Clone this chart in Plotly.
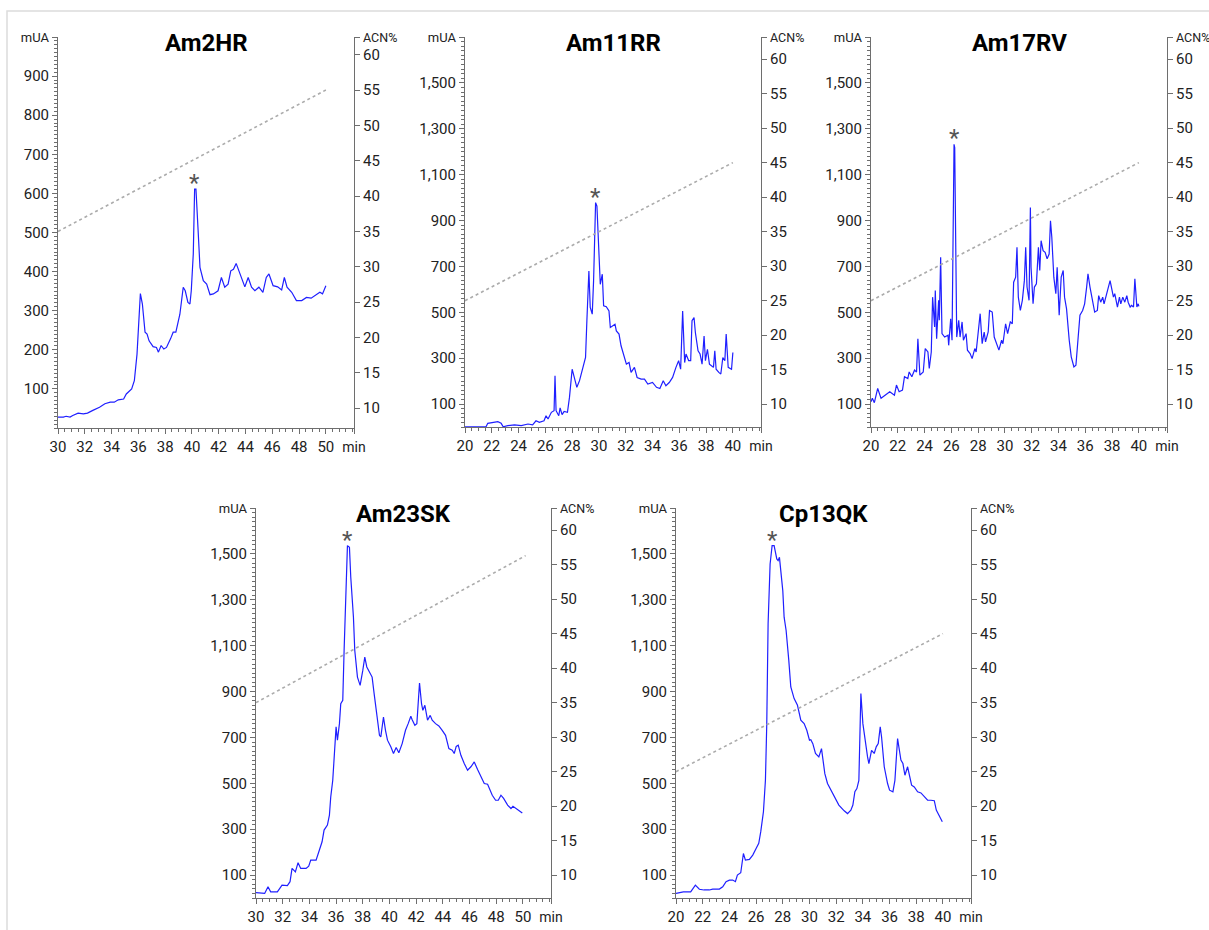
import plotly.graph_objects as go

# ---------------- data ----------------
panel_titles = ["Am2HR", "Am11RR", "Am17RV", "Am23SK", "Cp13QK"]

am2hr_time = [30, 30.4, 30.6, 30.9, 31.1, 31.5, 31.9, 32.2, 32.6, 33.1, 33.5, 33.9, 34.2, 34.5, 34.9, 35.1, 35.5,
              35.7, 35.9, 36.05, 36.15, 36.3, 36.5, 36.65, 36.8, 37.1, 37.35, 37.5, 37.7, 37.9, 38.1, 38.4, 38.6,
              38.8, 39.1, 39.35, 39.5, 39.7, 39.85, 39.95, 40.1, 40.2, 40.3, 40.45, 40.6, 40.85, 41.1, 41.35, 41.6,
              41.95, 42.2, 42.45, 42.7, 42.9, 43.1, 43.3, 43.5, 43.7, 43.95, 44.2, 44.45, 44.7, 45.0, 45.3, 45.55,
              45.75, 46.06, 46.4, 46.7, 46.9, 47.1, 47.45, 47.8, 48.2, 48.55, 48.9, 49.3, 49.55, 49.75, 50.0]
am2hr_mau = [28, 28, 30, 28, 32, 38, 36, 38, 45, 53, 62, 66, 66, 72, 74, 87, 100,
             121, 189, 291, 344, 317, 245, 240, 223, 208, 206, 194, 211, 202, 206, 228, 245,
             245, 291, 360, 351, 321, 317, 351, 445, 611, 611, 513, 411, 377, 368, 341, 343,
             351, 385, 360, 368, 402, 406, 421, 402, 385, 361, 385, 360, 351, 360, 347, 385,
             394, 364, 361, 353, 385, 360, 347, 326, 326, 334, 332, 341, 347, 343, 364]

am11rr_time = [20, 21.57, 21.7, 22.2, 22.45, 22.7, 22.85, 23.2, 23.7, 24.2, 24.7, 25.05, 25.3, 25.55, 25.9, 26.05,
               26.2, 26.45, 26.65, 26.72, 26.8, 27.0, 27.1, 27.25, 27.4, 27.65, 27.8, 28.0, 28.2, 28.35, 28.55,
               28.8, 29.0, 29.1, 29.25, 29.35, 29.5, 29.6, 29.75, 29.85, 29.95, 30.1, 30.25, 30.35, 30.55, 30.75,
               30.85, 31.05, 31.2, 31.3, 31.5, 31.65, 31.85, 32.05, 32.25, 32.4, 32.65, 32.85, 33.15, 33.4, 33.65,
               34.0, 34.3, 34.55, 34.8, 35.0, 35.25, 35.5, 35.75, 35.95, 36.1, 36.25, 36.4, 36.5, 36.7, 36.85,
               36.95, 37.1, 37.2, 37.4, 37.55, 37.7, 37.85, 37.95, 38.1, 38.25, 38.4, 38.55, 38.65, 38.75, 38.95,
               39.1, 39.25, 39.4, 39.5, 39.65, 39.9, 40.0]
am11rr_mau = [1, 1, 16, 19, 23, 16, 1, 6, 9, 6, 13, 9, 27, 20, 27, 49,
              35, 64, 71, 223, 71, 49, 83, 54, 68, 64, 129, 252, 202, 173, 202,
              252, 303, 463, 680, 521, 492, 637, 978, 963, 840, 622, 666, 528, 524, 506,
              434, 441, 448, 419, 405, 354, 318, 274, 281, 238, 260, 216, 209, 209, 187,
              194, 173, 168, 202, 180, 194, 216, 260, 289, 252, 506, 281, 318, 289, 289,
              463, 477, 412, 332, 318, 274, 397, 289, 339, 274, 267, 260, 332, 252, 238,
              231, 303, 289, 405, 260, 252, 325]

am17rv_time = [20, 20.1, 20.25, 20.5, 20.75, 21.1, 21.4, 21.75, 21.9, 22.1, 22.35, 22.5, 22.75, 22.85, 23.05, 23.25,
               23.4, 23.5, 23.65, 23.9, 24.05, 24.25, 24.35, 24.5, 24.6, 24.75, 24.8, 24.9, 25.05, 25.1, 25.2, 25.3,
               25.5, 25.75, 25.8, 25.95, 26.05, 26.2, 26.25, 26.4, 26.55, 26.65, 26.8, 26.9, 27.1, 27.2, 27.4,
               27.55, 27.75, 27.85, 28.05, 28.15, 28.3, 28.45, 28.55, 28.75, 28.85, 29.05, 29.2, 29.35, 29.55,
               29.75, 29.85, 30.05, 30.2, 30.4, 30.55, 30.65, 30.8, 30.9, 31.0, 31.15, 31.3, 31.45, 31.55, 31.65,
               31.8, 31.9, 31.95, 32.1, 32.2, 32.35, 32.5, 32.6, 32.7, 32.85, 33.0, 33.15, 33.3, 33.4, 33.5, 33.65,
               33.8, 33.9, 34.05, 34.2, 34.35, 34.45, 34.6, 34.8, 34.95, 35.15, 35.3, 35.45, 35.6, 35.8, 35.95,
               36.1, 36.2, 36.35, 36.55, 36.7, 36.9, 37.0, 37.15, 37.3, 37.4, 37.6, 37.85, 38.1, 38.2, 38.4, 38.55,
               38.65, 38.8, 38.95, 39.1, 39.2, 39.35, 39.45, 39.6, 39.7, 39.85, 39.95, 40.0]
am17rv_mau = [110, 125, 106, 168, 125, 139, 154, 139, 183, 154, 161, 219, 211, 240, 219, 248,
              240, 385, 226, 240, 342, 327, 255, 327, 566, 436, 595, 385, 552, 465, 740, 407,
              392, 400, 356, 472, 378, 1232, 1218, 392, 465, 392, 458, 378, 407, 335, 320,
              298, 342, 327, 443, 494, 363, 414, 371, 414, 508, 501, 392, 371, 335,
              378, 363, 450, 407, 458, 450, 631, 653, 783, 566, 508, 552, 638, 783, 610,
              552, 957, 696, 537, 610, 624, 783, 682, 812, 769, 761, 733, 754, 899, 827, 653,
              581, 696, 487, 653, 682, 566, 515, 378, 306, 262, 269, 378, 487, 508, 537,
              610, 668, 610, 552, 501, 508, 573, 544, 566, 537, 581, 638, 566, 581, 523, 566,
              537, 566, 544, 573, 544, 523, 530, 523, 646, 523, 537, 526]

am23sk_time = [30, 30.65, 30.9, 31.1, 31.6, 31.95, 32.35, 32.55, 32.7, 32.95, 33.15, 33.35, 33.75, 33.95, 34.1,
               34.5, 34.75, 34.95, 35.1, 35.35, 35.5, 35.6, 35.75, 35.85, 36.0, 36.1, 36.25, 36.35, 36.5, 36.6,
               36.75, 36.85, 37.0, 37.1, 37.3, 37.4, 37.6, 37.8, 38.0, 38.15, 38.3, 38.5, 38.7, 38.85, 39.05,
               39.25, 39.35, 39.55, 39.7, 39.85, 40.1, 40.3, 40.5, 40.7, 40.95, 41.2, 41.4, 41.6, 41.7, 41.9,
               42.05, 42.15, 42.25, 42.4, 42.5, 42.65, 42.85, 43.05, 43.2, 43.45, 43.7, 43.95, 44.2, 44.45, 44.7,
               44.85, 45.0, 45.15, 45.35, 45.6, 45.85, 46.1, 46.35, 46.6, 46.85, 47.1, 47.35, 47.5, 47.7, 47.95,
               48.15, 48.35, 48.55, 48.85, 49.1, 49.25, 49.5, 49.75, 49.95]
am23sk_mau = [23, 20, 49, 27, 27, 56, 54, 71, 129, 114, 154, 129, 129, 139, 165,
              165, 209, 245, 296, 318, 361, 441, 513, 615, 746, 688, 760, 847, 862, 1079,
              1413, 1536, 1529, 1398, 1224, 1079, 963, 927, 992, 1050, 1007, 985, 963, 891, 789,
              709, 702, 789, 731, 688, 659, 630, 656, 633, 673, 731, 760, 792, 777, 753,
              760, 876, 937, 847, 818, 840, 775, 796, 775, 760, 750, 731, 709, 651, 644,
              630, 661, 666, 622, 586, 557, 572, 593, 560, 528, 499, 496, 477, 448, 426,
              426, 448, 434, 405, 390, 400, 390, 380, 371]

cp13qk_time = [20, 20.55, 21.1, 21.3, 21.45, 21.75, 22.1, 22.5, 22.75, 23.25, 23.5, 23.75, 24.0, 24.25, 24.45,
               24.6, 24.85, 25.05, 25.2, 25.5, 25.75, 26.0, 26.2, 26.35, 26.55, 26.7, 26.8, 26.9, 27.05, 27.2,
               27.35, 27.55, 27.65, 27.75, 27.85, 28.0, 28.1, 28.25, 28.45, 28.6, 28.85, 29.1, 29.35, 29.6, 29.8,
               30.0, 30.1, 30.25, 30.45, 30.7, 30.9, 31.0, 31.15, 31.35, 31.6, 31.85, 32.2, 32.6, 32.85, 33.1,
               33.25, 33.4, 33.55, 33.7, 33.85, 34.0, 34.15, 34.35, 34.45, 34.65, 34.85, 35.0, 35.15, 35.3, 35.4,
               35.6, 35.85, 36.0, 36.25, 36.4, 36.6, 36.7, 36.85, 37.0, 37.15, 37.35, 37.45, 37.65, 37.85, 38.1,
               38.35, 38.6, 38.85, 39.1, 39.35, 39.5, 39.7, 39.95]
cp13qk_mau = [20, 27, 27, 42, 56, 38, 35, 35, 39, 39, 49, 71, 78, 78, 71,
              100, 110, 194, 165, 168, 187, 216, 238, 289, 376, 513, 760, 1195, 1456, 1536,
              1536, 1478, 1471, 1485, 1427, 1340, 1224, 1166, 1036, 920, 869, 840, 775, 760, 731,
              688, 690, 673, 630, 615, 651, 615, 542, 499, 470, 441, 405, 380, 368, 383,
              405, 463, 477, 513, 891, 760, 688, 615, 586, 644, 630, 659, 673, 746, 702,
              572, 499, 470, 463, 513, 695, 659, 601, 586, 535, 572, 542, 492, 484, 463,
              458, 441, 426, 426, 424, 383, 361, 332]

# ACN% gradient (start/end)
am2hr_grad_time, am2hr_grad_acn = [30, 50], [35, 55]
am11rr_grad_time, am11rr_grad_acn = [20, 40], [25, 45]
am17rv_grad_time, am17rv_grad_acn = [20, 40], [25, 45]
am23sk_grad_time, am23sk_grad_acn = [30, 50.2], [35, 56.3]
cp13qk_grad_time, cp13qk_grad_acn = [20, 40], [25, 45]

# axis ticks
x_ticks_30 = [30, 32, 34, 36, 38, 40, 42, 44, 46, 48, 50]
x_ticks_20 = [20, 22, 24, 26, 28, 30, 32, 34, 36, 38, 40]
y_ticks_small = [100, 200, 300, 400, 500, 600, 700, 800, 900]
y_ticks_big = [100, 300, 500, 700, 900, 1100, 1300, 1500]
acn_ticks = [10, 15, 20, 25, 30, 35, 40, 45, 50, 55, 60]

series = [
    (am2hr_time, am2hr_mau, am2hr_grad_time, am2hr_grad_acn),
    (am11rr_time, am11rr_mau, am11rr_grad_time, am11rr_grad_acn),
    (am17rv_time, am17rv_mau, am17rv_grad_time, am17rv_grad_acn),
    (am23sk_time, am23sk_mau, am23sk_grad_time, am23sk_grad_acn),
    (cp13qk_time, cp13qk_mau, cp13qk_grad_time, cp13qk_grad_acn),
]

# ---------------- layout geometry (pixels) ----------------
W, H = 1209, 930
geom = [
    dict(l=58, r=354, t=37, b=428, xr=[30, 52.1], yr=[0, 1000], y2r=[7.2, 62.5], xt=x_ticks_30, yt=y_ticks_small, md=10),
    dict(l=465, r=761, t=37, b=427, xr=[20, 42.1], yr=[0, 1700], y2r=[6.7, 63.2], xt=x_ticks_20, yt=y_ticks_big, md=20),
    dict(l=871, r=1167, t=37, b=427, xr=[20, 42.1], yr=[0, 1700], y2r=[6.7, 63.2], xt=x_ticks_20, yt=y_ticks_big, md=20),
    dict(l=256, r=551, t=508, b=898, xr=[30, 52.1], yr=[0, 1700], y2r=[6.7, 63.2], xt=x_ticks_30, yt=y_ticks_big, md=20),
    dict(l=676, r=971, t=508, b=898, xr=[20, 42.1], yr=[0, 1700], y2r=[6.7, 63.2], xt=x_ticks_20, yt=y_ticks_big, md=20),
]

FONT = "Roboto, sans-serif"
AXC = "#6e6e6e"
TXC = "#222222"
UNIT = "<span style='font-size:{}px'>{}</span>"

fig = go.Figure()
layout = dict(
    template="none",
    width=W, height=H, margin=dict(l=0, r=0, t=0, b=0, pad=0, autoexpand=False),
    paper_bgcolor="white", plot_bgcolor="white", showlegend=False,
    font=dict(family=FONT, size=15, color=TXC),
)
annotations = []
shapes = []

for i, (g, (tx, ty, gx, gy), title) in enumerate(zip(geom, series, panel_titles)):
    n = i + 1
    xa = "x" if n == 1 else f"x{n}"
    ya = "y" if n == 1 else f"y{n}"
    y2n = n + 5
    ya2 = f"y{y2n}"
    xd = [g["l"] / W, g["r"] / W]
    yd = [1 - g["b"] / H, 1 - g["t"] / H]

    fig.add_trace(go.Scatter(x=gx, y=gy, mode="lines", xaxis=xa, yaxis=ya2, hoverinfo="skip",
                             line=dict(color="#ababab", width=1.6, dash="3px,3px")))
    fig.add_trace(go.Scatter(x=tx, y=ty, mode="lines", xaxis=xa, yaxis=ya,
                             line=dict(color="#1f1fff", width=1.2)))

    xt = g["xt"] + [g["xr"][1]]
    xtt = [str(v) for v in g["xt"]] + [UNIT.format(14, "min")]
    yt = g["yt"] + [g["yr"][1]]
    ytt = [f"{v:,}" for v in g["yt"]] + [UNIT.format(13, "mUA")]
    y2t = acn_ticks + [g["y2r"][1]]
    y2tt = [str(v) for v in acn_ticks] + [UNIT.format(12.5, "ACN%")]

    common = dict(showgrid=False, zeroline=False, showline=True, linecolor=AXC, linewidth=1,
                  automargin=False, ticks="outside", tickcolor=AXC, tickwidth=1, ticklen=5,
                  tickfont=dict(family=FONT, size=15, color=TXC))
    layout["xaxis" if n == 1 else f"xaxis{n}"] = dict(
        common, domain=xd, range=g["xr"], anchor=ya, tickmode="array", tickvals=xt, ticktext=xtt,
        minor=dict(tickmode="linear", tick0=0, dtick=0.5, ticklen=3, tickcolor=AXC, ticks="outside"))
    layout["yaxis" if n == 1 else f"yaxis{n}"] = dict(
        common, domain=yd, range=g["yr"], anchor=xa, tickmode="array", tickvals=yt, ticktext=ytt,
        minor=dict(tickmode="linear", tick0=0, dtick=g["md"], ticklen=3, tickcolor=AXC, ticks="outside"))
    layout[f"yaxis{y2n}"] = dict(
        common, range=g["y2r"], overlaying=ya, side="right", anchor=xa,
        tickmode="array", tickvals=y2t, ticktext=y2tt)

    annotations.append(dict(text=f"<b>{title}</b>", xref="paper", yref="paper",
                            x=(g["l"] + g["r"]) / 2 / W, y=1 - (g["t"] + 6) / H,
                            xanchor="center", yanchor="middle", showarrow=False,
                            font=dict(family="Roboto, sans-serif", size=24, color="#000")))
    k = max(range(len(ty)), key=lambda j: ty[j])
    annotations.append(dict(text="*", xref=xa, yref=ya, x=tx[k], y=ty[k], xanchor="center",
                            yanchor="middle", yshift=6, showarrow=False,
                            font=dict(family="Roboto, sans-serif", size=24, color="#555")))

shapes.append(dict(type="rect", xref="paper", yref="paper", x0=7 / W, x1=1.02, y0=-0.02, y1=1 - 11 / H,
                   line=dict(color="#dcdcdc", width=1.5), fillcolor="rgba(0,0,0,0)", layer="below"))

layout["annotations"] = annotations
layout["shapes"] = shapes
fig.update_layout(**layout)
fig.write_html("out.html")
